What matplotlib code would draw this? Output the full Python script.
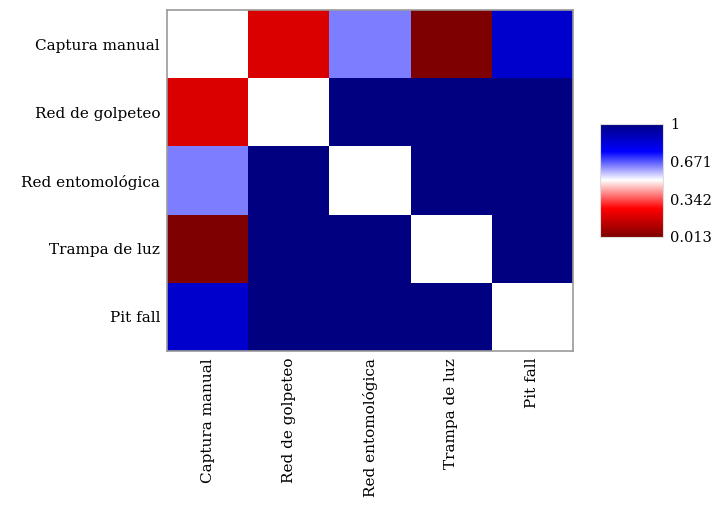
import numpy as np
import matplotlib
matplotlib.use("Agg")
import matplotlib.pyplot as plt
from matplotlib.colors import LinearSegmentedColormap, Normalize

methods = ["Captura manual", "Red de golpeteo", "Red entomológica",
           "Trampa de luz", "Pit fall"]

# pairwise similarity values (diagonal left empty)
row_captura = [np.nan, 0.194, 0.63, 0.013, 0.852]
row_golpeteo = [0.194, np.nan, 1.0, 1.0, 1.0]
row_entomo = [0.63, 1.0, np.nan, 1.0, 1.0]
row_luz = [0.013, 1.0, 1.0, np.nan, 1.0]
row_pitfall = [0.852, 1.0, 1.0, 1.0, np.nan]

cbar_ticks = [0.013, 0.342, 0.671, 1.0]
cbar_labels = ["0.013", "0.342", "0.671", "1"]

values = np.array([row_captura, row_golpeteo, row_entomo, row_luz, row_pitfall])

plt.rcParams["font.family"] = ["DejaVu Serif"]

cmap = LinearSegmentedColormap.from_list(
    "rwb",
    [(0.0, "#7f0000"), (0.25, "#ff0000"), (0.5, "#ffffff"),
     (0.75, "#0000ff"), (1.0, "#000080")])
cmap.set_bad("white")
norm = Normalize(vmin=0.013, vmax=1.0)

fig = plt.figure(figsize=(7.15, 5.07), dpi=100)
W, H = 715, 507
ax = fig.add_axes([167 / W, 1 - 351 / H, (573 - 167) / W, (351 - 10) / H])

ax.pcolormesh(np.ma.masked_invalid(values), cmap=cmap, norm=norm)
ax.set_xlim(0, 5)
ax.set_ylim(5, 0)
ax.set_xticks(np.arange(5) + 0.5)
ax.set_yticks(np.arange(5) + 0.5)
ax.set_xticklabels(methods, rotation=90, fontsize=11)
ax.set_yticklabels(methods, fontsize=11)
ax.tick_params(length=0, pad=5)
for s in ax.spines.values():
    s.set_color("#999999")
    s.set_linewidth(1.2)

cax = fig.add_axes([600 / W, 1 - 237 / H, (663 - 600) / W, (237 - 124) / H])
grad = np.linspace(0.013, 1.0, 256).reshape(-1, 1)
cax.imshow(grad, cmap=cmap, norm=norm, aspect="auto", origin="lower",
           extent=[0, 1, 0.013, 1.0])
cax.set_xticks([])
cax.yaxis.tick_right()
cax.set_yticks(cbar_ticks)
cax.set_yticklabels(cbar_labels, fontsize=10.5)
cax.tick_params(length=0, pad=5)
for s in cax.spines.values():
    s.set_color("#dddddd")
    s.set_linewidth(0.8)

fig.savefig("out.png", dpi=100)
